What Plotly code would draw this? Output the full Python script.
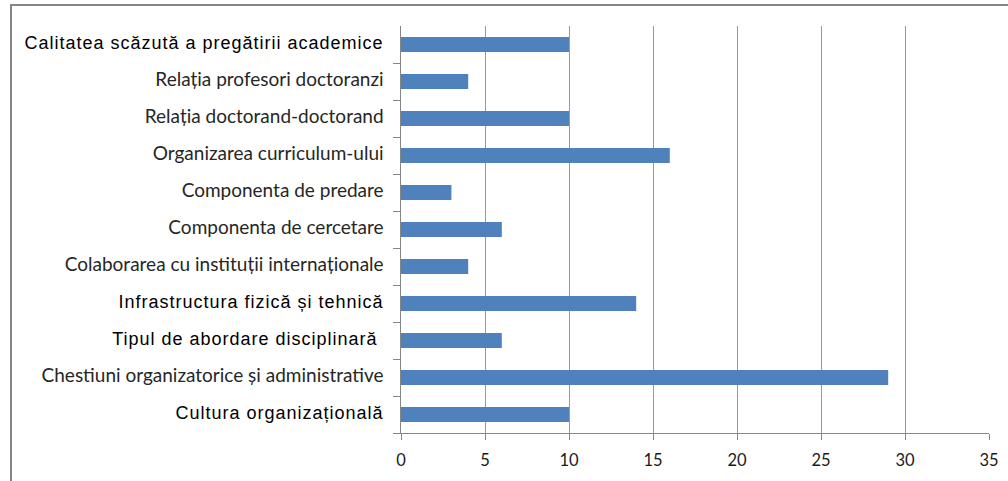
import plotly.graph_objects as go

categories = [
    "Calitatea scăzută a pregătirii academice",
    "Relația profesori doctoranzi",
    "Relația doctorand-doctorand",
    "Organizarea curriculum-ului",
    "Componenta de predare",
    "Componenta de cercetare",
    "Colaborarea cu instituții internaționale",
    "Infrastructura fizică și tehnică",
    "Tipul de abordare disciplinară ",
    "Chestiuni organizatorice și administrative",
    "Cultura organizațională",
]
values = [10, 4, 10, 16, 3, 6, 4, 14, 6, 29, 10]
arial_labels = {0, 7, 8, 10}
x_ticks = [0, 5, 10, 15, 20, 25, 30, 35]

ARIAL = "Liberation Sans, Arial, sans-serif"
CAL = "Lato, Noto Sans, sans-serif"

ticktext = []
for i, c in enumerate(categories):
    label = c.rstrip() + ("\u00a0" if c.endswith(" ") else "")
    if i in arial_labels:
        ticktext.append(
            f'<span style="font-family:{ARIAL};font-size:18px;letter-spacing:1px;fill:#000000">{label}</span>')
    else:
        ticktext.append(
            f'<span style="font-family:{CAL};font-size:19px;fill:#262626">{label}</span>')

W, H = 1008, 481
ml, mr, mt, mb = 401, 19, 26, 48
pw = W - ml - mr
ph = H - mt - mb

fig = go.Figure(go.Bar(
    x=values, y=categories, orientation="h",
    marker=dict(color="#4F81BD", line=dict(width=0)),
))

fig.update_layout(
    width=W, height=H,
    margin=dict(l=ml, r=mr, t=mt, b=mb, autoexpand=False),
    paper_bgcolor="white", plot_bgcolor="white",
    bargap=0.595, showlegend=False,
    font=dict(family=CAL, color="#1a1a1a"),
)
fig.update_xaxes(
    range=[0, 35], tickmode="array", tickvals=x_ticks,
    showgrid=True, gridcolor="#999999", gridwidth=1,
    showline=True, linecolor="#868686", linewidth=1,
    ticks="outside", ticklen=6, tickcolor="#868686",
    tickfont=dict(family=CAL, size=16.5, color="#1a1a1a"),
    ticklabelstandoff=6,
    zeroline=False, automargin=False,
)
fig.update_yaxes(
    categoryorder="array", categoryarray=categories[::-1],
    tickmode="array", tickvals=categories, ticktext=ticktext,
    showline=True, linecolor="#868686", linewidth=1,
    ticks="outside", ticklen=7, tickcolor="#868686", tickson="boundaries",
    showgrid=False, ticklabelstandoff=14, automargin=False,
)

# outer chart border (left and top visible)
x0 = (11 - ml) / pw
x1 = (W + 20 - ml) / pw
y1 = 1 + (mt - 5) / ph
y0 = -(mb + 20) / ph
fig.add_shape(type="rect", xref="paper", yref="paper",
              x0=x0, x1=x1, y0=y0, y1=y1,
              line=dict(color="#868686", width=2), fillcolor="rgba(0,0,0,0)")

fig.write_html("out.html", config={"displayModeBar": False},
               post_script="document.body.style.margin='0px';")
